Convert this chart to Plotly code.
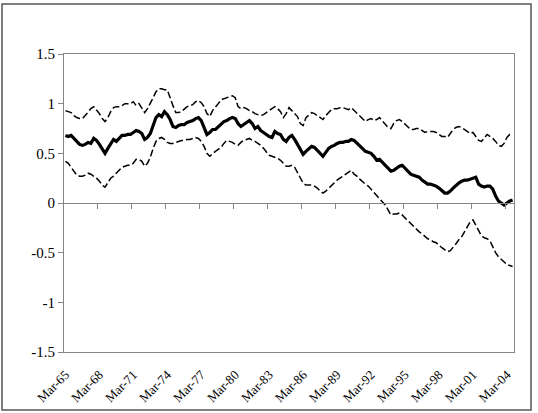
import plotly.graph_objects as go

years = list(range(1965, 2005))
quarters = [f"{m}-{str(y)[2:]}" for y in years for m in ["Mar", "Jun", "Sep", "Dec"]][:159]

estimate = [0.68,0.67,0.68,0.65,0.63,0.59,0.58,0.59,0.61,0.60,0.65,0.63,0.59,0.55,0.50,0.55,0.60,0.64,0.62,0.65,0.68,0.68,0.69,0.69,0.71,0.73,0.72,
            0.70,0.64,0.66,0.70,0.78,0.86,0.89,0.87,0.92,0.89,0.84,0.77,0.76,0.78,0.79,0.79,0.81,0.82,0.83,0.85,0.86,0.83,0.76,0.69,0.71,0.74,
            0.74,0.77,0.79,0.82,0.83,0.85,0.86,0.85,0.80,0.77,0.79,0.81,0.83,0.80,0.75,0.77,0.73,0.71,0.69,0.67,0.66,0.72,0.70,0.69,0.64,0.62,0.66,
            0.68,0.64,0.59,0.54,0.49,0.52,0.55,0.57,0.56,0.53,0.50,0.47,0.51,0.55,0.57,0.58,0.60,0.61,0.61,0.62,0.62,0.64,0.63,0.60,0.58,0.54,0.52,
            0.51,0.50,0.47,0.43,0.44,0.41,0.38,0.35,0.32,0.33,0.35,0.37,0.38,0.35,0.32,0.29,0.28,0.27,0.26,0.23,0.21,0.19,0.19,0.18,0.17,0.15,0.12,
            0.10,0.10,0.12,0.15,0.18,0.20,0.22,0.23,0.23,0.24,0.25,0.26,0.19,0.17,0.16,0.17,0.17,0.14,0.07,0.02,0.00,-0.02,0.00,0.02,0.03]

upper = [0.93,0.92,0.91,0.88,0.86,0.85,0.85,0.88,0.92,0.95,0.97,0.94,0.90,0.85,0.82,0.86,0.92,0.96,0.97,0.97,0.98,1.00,1.00,1.00,1.02,0.98,1.00,
         0.96,0.91,0.95,1.00,1.06,1.12,1.15,1.15,1.14,1.14,1.05,0.98,0.91,0.91,0.92,0.95,0.97,0.98,0.99,1.02,1.03,1.01,0.97,0.90,0.87,0.93,
         0.96,1.00,1.04,1.05,1.06,1.07,1.08,1.06,0.97,0.95,0.96,0.95,0.93,0.92,0.90,0.89,0.88,0.89,0.91,0.93,0.95,0.97,0.95,0.92,0.86,0.90,0.96,
         0.93,0.91,0.87,0.80,0.78,0.86,0.89,0.91,0.90,0.88,0.86,0.84,0.88,0.91,0.94,0.95,0.95,0.96,0.96,0.95,0.94,0.96,0.93,0.90,0.87,0.85,0.82,
         0.84,0.85,0.83,0.84,0.86,0.83,0.80,0.76,0.75,0.80,0.83,0.84,0.82,0.79,0.76,0.74,0.74,0.75,0.75,0.73,0.71,0.72,0.72,0.72,0.71,0.69,0.67,
         0.67,0.66,0.70,0.74,0.76,0.77,0.76,0.74,0.72,0.70,0.71,0.67,0.63,0.62,0.66,0.69,0.67,0.65,0.62,0.58,0.57,0.60,0.66,0.69,0.68]

lower = [0.42,0.40,0.36,0.32,0.28,0.27,0.27,0.28,0.30,0.29,0.27,0.25,0.22,0.18,0.16,0.20,0.25,0.27,0.30,0.33,0.36,0.37,0.38,0.38,0.40,0.44,0.44,
         0.42,0.37,0.40,0.46,0.55,0.62,0.65,0.66,0.64,0.61,0.60,0.60,0.61,0.62,0.63,0.63,0.64,0.64,0.65,0.66,0.65,0.62,0.57,0.50,0.47,0.50,
         0.52,0.54,0.56,0.60,0.63,0.62,0.61,0.59,0.58,0.61,0.63,0.64,0.65,0.63,0.62,0.60,0.58,0.55,0.51,0.48,0.47,0.46,0.45,0.43,0.40,0.37,0.37,
         0.38,0.36,0.31,0.26,0.20,0.18,0.18,0.18,0.17,0.15,0.12,0.10,0.12,0.15,0.18,0.20,0.23,0.25,0.27,0.29,0.31,0.33,0.29,0.27,0.24,0.21,0.19,
         0.17,0.14,0.11,0.08,0.05,0.02,-0.02,-0.07,-0.12,-0.11,-0.11,-0.10,-0.12,-0.15,-0.18,-0.20,-0.23,-0.26,-0.29,-0.31,-0.34,-0.36,-0.37,-0.39,-0.40,-0.43,-0.45,
         -0.47,-0.49,-0.48,-0.45,-0.41,-0.37,-0.34,-0.29,-0.24,-0.19,-0.17,-0.22,-0.28,-0.33,-0.35,-0.36,-0.38,-0.44,-0.50,-0.54,-0.57,-0.60,-0.62,-0.63,-0.64]

y_ticks = [1.5, 1, 0.5, 0, -0.5, -1, -1.5]
y_labels = ["1.5", "1", "0.5", "0", "-0.5", "-1", "-1.5"]

n = len(estimate)
idx = list(range(n))
label_idx = list(range(0, n, 12))
label_txt = [quarters[i] for i in label_idx]
boundary_ticks = [i - 0.5 for i in range(12, n, 12)]

FONT = "Liberation Serif"
GRAY = "#868686"

fig = go.Figure()
fig.add_trace(go.Scatter(x=idx, y=upper, mode="lines", line=dict(color="black", width=1.5, dash="7px,3px"),
                         showlegend=False, hoverinfo="skip"))
fig.add_trace(go.Scatter(x=idx, y=lower, mode="lines", line=dict(color="black", width=1.5, dash="7px,3px"),
                         showlegend=False, hoverinfo="skip", xaxis="x2"))
fig.add_trace(go.Scatter(x=idx, y=estimate, mode="lines", line=dict(color="black", width=3.2),
                         showlegend=False, hoverinfo="skip"))

rng = [-0.5, n - 0.5]
fig.update_layout(
    width=538, height=413,
    margin=dict(l=64, r=24, t=54, b=61),
    paper_bgcolor="white", plot_bgcolor="white",
    font=dict(family=FONT, size=14, color="black"),
    xaxis=dict(range=rng, tickmode="array", tickvals=label_idx, ticktext=label_txt, tickangle=-45,
               showline=True, linecolor=GRAY, linewidth=1, mirror=True, ticks="", showgrid=False,
               zeroline=False, automargin=False, ticklabelstandoff=9, tickfont=dict(size=13, family=FONT)),
    xaxis2=dict(range=rng, overlaying="x", anchor="free", position=0.5, side="bottom",
                tickmode="array", tickvals=boundary_ticks, showticklabels=False,
                showline=True, linecolor=GRAY, linewidth=1, ticks="outside", ticklen=5,
                tickcolor=GRAY, showgrid=False, zeroline=False),
    yaxis=dict(range=[-1.5, 1.5], tickmode="array", tickvals=y_ticks, ticktext=y_labels,
               showline=True, linecolor=GRAY, linewidth=1, mirror=True, ticks="outside", ticklen=5,
               tickcolor=GRAY, showgrid=False, zeroline=False, automargin=False,
               tickfont=dict(size=15, family=FONT)),
    shapes=[dict(type="rect", xref="paper", yref="paper", x0=-0.1378, x1=1.0378, y0=-0.195, y1=1.168,
                 line=dict(color="#555555", width=1.5), layer="below")],
)

fig.write_html("out.html")
